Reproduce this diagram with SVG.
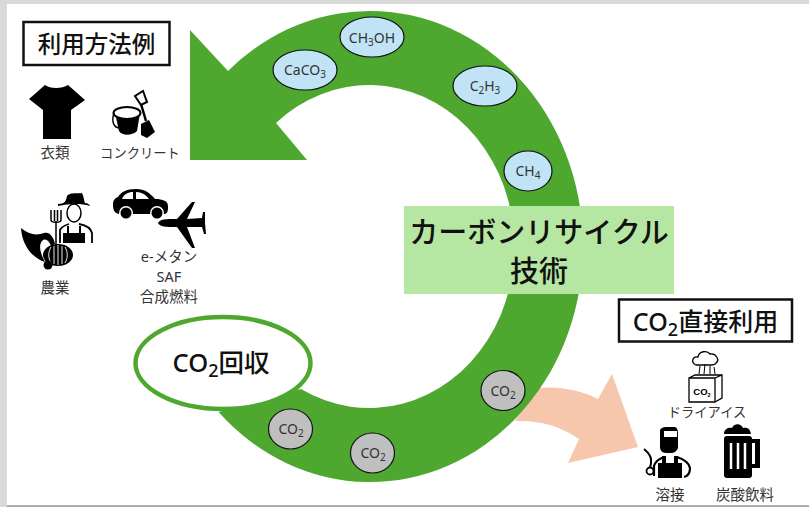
<svg xmlns="http://www.w3.org/2000/svg" width="809" height="508" viewBox="0 0 809 508">
<style>
text{font-family:"Noto Sans","Noto Sans CJK JP","Liberation Sans",sans-serif;text-anchor:middle}
.lb{font-size:14.5px;fill:#333}
.f{font-size:14px;fill:#333}
.s{font-size:10px}
.h{font-weight:500;fill:#111}
.o{fill:#c0e4f5;stroke:#111;stroke-width:1.2}
.g{fill:#bfbfbf;stroke:#111;stroke-width:1.2}
.box{fill:#fff;stroke:#111;stroke-width:2.5}
.k{fill:#000}
.w{fill:#fff}
.ln{fill:none;stroke:#000;stroke-width:1.4}
</style>
<rect width="809" height="508" fill="#fff"/>
<path d="M0 0H809V4H7V505H809V507H0Z" fill="#d9d9d9"/>
<rect x="7" y="505.500" width="802" height="1.200" fill="#8c8c8c"/>
<g id="connectors">
<path id="peach-arrow" d="M515 421C540 420 560 426 579 439L568 463L638 447L612 374L598 399C580 390 560 386 535 388Z" fill="#f6c6ad"/>
<path id="cycle-arrow" d="M190 30L228 71A213 235.500 0 1 1 218.500 412L301 389A145 161.500 0 1 0 276 123L307 160L190 160Z" fill="#4ea72e"/>
</g>
<g id="node-methods"><rect class="box" x="23.500" y="22" width="146" height="43"/><text x="96.500" y="53" font-size="23.500" class="h">利用方法例</text></g>
<g id="node-direct"><rect class="box" x="619" y="299.500" width="173" height="42"/><text x="705.500" y="331" font-size="25" class="h">CO<tspan font-size="18" dy="5">2</tspan><tspan dy="-5">直接利用</tspan></text></g>
<g id="node-tech"><rect x="404" y="206" width="270" height="88" fill="#b5e6a2"/><text x="539" y="243" font-size="29" class="h">カーボンリサイクル</text><text x="539" y="282" font-size="29" class="h">技術</text></g>
<g id="node-capture"><ellipse cx="223" cy="363" rx="87.500" ry="46" fill="#fff" stroke="#4ea72e" stroke-width="4.500"/><text x="221" y="372" font-size="25.500" class="h">CO<tspan font-size="18" dy="5">2</tspan><tspan dy="-5">回収</tspan></text></g>
<g id="node-ch3oh"><ellipse class="o" cx="372" cy="37" rx="32" ry="20"/><text x="372" y="43" class="f">CH<tspan class="s" dy="3">3</tspan><tspan dy="-3">OH</tspan></text></g>
<g id="node-caco3"><ellipse class="o" cx="305" cy="70" rx="32" ry="20"/><text x="305" y="75" class="f">CaCO<tspan class="s" dy="3">3</tspan></text></g>
<g id="node-c2h3"><ellipse class="o" cx="485" cy="86" rx="32" ry="20"/><text x="485" y="91" class="f">C<tspan class="s" dy="3">2</tspan><tspan dy="-3">H</tspan><tspan class="s" dy="3">3</tspan></text></g>
<g id="node-ch4"><ellipse class="o" cx="528" cy="171" rx="24" ry="20"/><text x="528" y="176" class="f">CH<tspan class="s" dy="3">4</tspan></text></g>
<g id="node-co2a"><ellipse class="g" cx="290.500" cy="429" rx="22" ry="20"/><text x="291" y="434" class="f">CO<tspan class="s" dy="3">2</tspan></text></g>
<g id="node-co2b"><ellipse class="g" cx="372.500" cy="453" rx="22" ry="20"/><text x="373" y="458" class="f">CO<tspan class="s" dy="3">2</tspan></text></g>
<g id="node-co2c"><ellipse class="g" cx="503" cy="390.500" rx="22" ry="20"/><text x="503" y="396" class="f">CO<tspan class="s" dy="3">2</tspan></text></g>
<g id="node-clothes"><path class="k" d="M45 85C50 89 62 89 68 85L85 100L71 110V139H43V110L29 99Z"/><text x="55" y="158" class="lb">衣類</text></g>
<g id="node-concrete">
<path class="k" d="M115 113H140L137 131C132 136 122 136 119 131Z"/>
<ellipse cx="127" cy="113" rx="13.500" ry="6" fill="#fff" stroke="#000" stroke-width="2"/>
<path class="ln" d="M114 113C111 122 114 128 120 128"/>
<path d="M135 96L143 91L147 102L141 105Z" fill="#fff" stroke="#000" stroke-width="2"/>
<path d="M141 104L146 121" stroke="#000" stroke-width="2.500"/>
<path class="k" d="M141 124L149 120L155 132L147 138L141 135Z"/>
<text x="140" y="158" class="lb" style="font-size:13.300px">コンクリート</text></g>
<g id="node-farm">
<path class="k" d="M58 204C65 204 66 201 67 196C70 192 78 194 82 193C84 197 84 201 85 203C88 203 90 205 90 206C80 203 68 204 58 206Z"/>
<ellipse cx="74" cy="213" rx="7" ry="9" fill="#fff" stroke="#000" stroke-width="1.500"/>
<path d="M60 243V230C62 226 66 225 69 224M79 224C84 225 91 227 92 233V243" fill="none" stroke="#000" stroke-width="1.800"/>
<path class="k" d="M63 233H67V226H69V233H79V226H81V233H85V243H63Z"/>
<path d="M51 210V220C51 223 61 223 61 220V210M54.500 210V221M57.500 210V221M56 221V248" fill="none" stroke="#000" stroke-width="1.500"/>
<path class="k" d="M21 228C28 234 36 236 44 233C50 231 54 238 55 244L51 246C49 240 45 238 42 241C38 246 41 255 45 262C32 258 22 245 21 228Z"/>
<ellipse cx="58" cy="255" rx="15" ry="11" fill="#000"/>
<path d="M51 247C48 252 48 258 51 263M58 245V265M65 247C68 252 68 258 65 263M54 246V264M62 246V264" stroke="#fff" stroke-width="0.900" fill="none"/>
<circle cx="48" cy="265" r="4.500" fill="#000"/>
<text x="55" y="293" class="lb">農業</text></g>
<g id="node-fuel">
<path class="k" d="M113 205C113 200 115 198 118 197C121 192 126 189 136 189C145 189 150 193 155 199C163 199 168 201 168 206C168 210 168 213 165 214H119C114 213 113 209 113 205Z"/>
<path class="w" d="M122 199C124 194 128 192 133 192V199ZM136 192C142 192 146 195 149 199H136Z"/>
<circle cx="126" cy="213" r="7" class="w"/><circle cx="157" cy="213" r="7" class="w"/>
<circle cx="126" cy="213" r="5.500" class="k"/><circle cx="157" cy="213" r="5.500" class="k"/>
<path class="k" d="M158 223C160 219 165 219 177 219L192 202H195L187 219L202 218L203 212H205L205 223L206 234H204L202 227H187L195 248H192L177 227C165 227 160 227 158 223Z"/>
<text x="169" y="262" class="lb">e-メタン</text><text x="169" y="282" class="lb">SAF</text><text x="169" y="302" class="lb">合成燃料</text></g>
<g id="node-dryice">
<path d="M696 365C690 362 693 356 698 357C699 351 707 350 710 354C716 353 720 360 716 363C715 365 712 365 711 365H696Z" fill="#fff" stroke="#000" stroke-width="1.300"/>
<path d="M700 366L699 374M705 364L704 374M710 366L710 374M714 367L715 374" stroke="#000" stroke-width="1" fill="none"/>
<path d="M689 378H715V402H689ZM689 378L695 375H722V398L715 402M715 378L722 375" fill="#fff" stroke="#000" stroke-width="1.300"/>
<text x="702" y="395" font-size="9.500" font-weight="700" fill="#000" style="font-family:'Liberation Sans',sans-serif">CO<tspan font-size="5.500" dy="1.500">2</tspan></text>
<text x="707" y="417" class="lb" style="font-size:13.300px">ドライアイス</text></g>
<g id="node-welding">
<path class="k" d="M660 431C660 428 663 427 667 427H675C678 428 678 432 678 436V448C677 451 674 453 671 453H666C662 453 660 450 660 447Z"/>
<path class="w" d="M664 431H677V437H664Z"/>
<path d="M654 476V466C656 460 661 458 664 457M677 457C683 459 689 462 690 468C690 472 688 476 684 477" fill="none" stroke="#000" stroke-width="2.200"/>
<path class="k" d="M658 463H662V456H666V463H674V456H678V463H682V478H658Z"/>
<path d="M644 449C649 453 652 458 651 463L650 468" fill="none" stroke="#000" stroke-width="2"/>
<circle cx="650" cy="471" r="3.500" fill="#fff" stroke="#000" stroke-width="1.800"/>
<text x="670" y="500" class="lb">溶接</text></g>
<g id="node-soda">
<path class="k" d="M724 434C724 428 730 427 732 428C734 423 741 423 743 428C748 427 750 429 751 434Z"/>
<rect class="k" x="724" y="436" width="28" height="42" rx="3"/>
<path class="k" d="M750 439H760V468H750V464H755V443H750Z"/>
<path d="M731 443V469M738 443V469M745 443V469" stroke="#fff" stroke-width="2.500"/>
<text x="745" y="500" class="lb">炭酸飲料</text></g>
</svg>
